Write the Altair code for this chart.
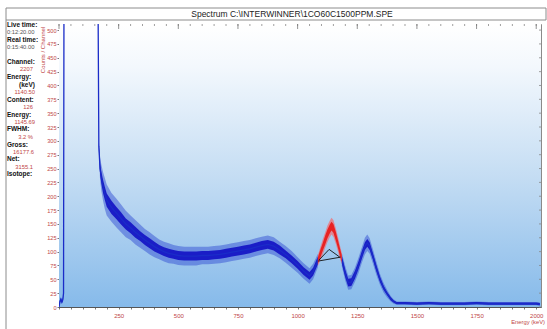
import altair as alt
import pandas as pd
import numpy as np

# ---------------- data ----------------
energy = [0, 4, 8, 12, 16, 19, 21, 163, 167, 172, 178, 185, 192, 200, 220, 240, 260, 280,
          300, 320, 340, 360, 380, 400, 420, 440, 460, 480, 500, 525, 550, 575, 600, 625,
          650, 675, 700, 725, 750, 775, 800, 825, 850, 875, 900, 925, 950, 975, 1000, 1025,
          1050, 1065, 1085, 1135, 1185, 1200, 1212, 1225, 1240, 1255, 1270, 1282, 1292, 1302,
          1315, 1330, 1345, 1360, 1375, 1390, 1402, 1415, 1450, 1500, 1550, 1600, 1650, 1700,
          1750, 1800, 1850, 1900, 1950, 2000, 2015]
counts = [0, 10, 14, 9, 13, 25, 600, 600, 290, 250, 232, 217, 205, 193, 180, 170, 160, 150,
          143, 135, 128, 121, 115, 109, 104, 100, 97, 95, 93, 92, 92, 92, 93, 93,
          94, 95, 97, 99, 101, 103, 105, 108, 111, 113, 110, 103, 95, 86, 76, 65,
          56, 64, 84, None, 86, 60, 44, 45, 58, 75, 95, 110, 116, 110,
          92, 70, 50, 35, 24, 15, 10, 7, 7, 6, 7, 6, 6, 6,
          7, 6, 6, 6, 6, 6, 5]
spread = [0, 2, 2, 2, 2, 0, 0, 0, 6, 9, 11, 12, 12, 12, 12, 11, 11, 10,
          10, 10, 9, 9, 9, 9, 8, 8, 8, 8, 8, 8, 8, 8, 8, 8,
          8, 8, 8, 8, 8, 8, 8, 8, 8, 8, 8, 8, 7, 7, 7, 7,
          7, 7, 7, None, 7, 7, 7, 7, 7, 7, 7, 7, 7, 7,
          6, 6, 5, 4, 3, 3, 2, 2, 2, 2, 2, 2, 2, 2,
          2, 2, 2, 2, 2, 2, 2]
spike = [0, 4, 4, 4, 4, 0, 0, 0, 10, 20, 24, 26, 28, 28, 26, 26, 25, 24,
         22, 22, 21, 20, 20, 19, 18, 18, 18, 17, 17, 17, 17, 17, 16, 16,
         16, 16, 16, 16, 16, 16, 16, 16, 16, 16, 16, 15, 15, 15, 14, 14,
         14, 14, 12, None, 12, 13, 13, 13, 13, 14, 14, 15, 15, 14,
         13, 12, 10, 9, 7, 5, 4, 3, 3, 3, 3, 3, 3, 3,
         3, 3, 3, 3, 3, 3, 3]

red_energy = [1085, 1095, 1105, 1115, 1125, 1135, 1142, 1150, 1160, 1170, 1178, 1185]
red_counts = [84, 96, 108, 120, 132, 141, 146, 142, 128, 112, 98, 88]
red_spread = [6, 7, 7, 8, 8, 8, 8, 8, 8, 7, 7, 6]
red_spike = [10, 12, 14, 14, 15, 15, 15, 15, 14, 13, 12, 10]

# region-of-interest marker lines (baseline and FWHM triangle)
roi_energy = [1087, 1180, 1090, 1132, 1177]
roi_counts = [83, 90, 85, 104, 90]
roi_group = ["base", "base", "tri", "tri", "tri"]

x_ticks = list(range(0, 2001, 50))
y_ticks = list(range(0, 501, 25))

assert len(energy) == len(counts) == len(spread) == len(spike)

# ---------------- tables ----------------
def band_table(e, c, s, k):
    rows = []
    for ei, ci, si, ki in zip(e, c, s, k):
        if ci is None:
            rows.append(dict(e=ei, c=np.nan, lo=np.nan, hi=np.nan, lo2=np.nan, hi2=np.nan))
        else:
            rows.append(dict(e=ei, c=ci, lo=ci - si, hi=ci + si, lo2=ci - ki, hi2=ci + ki))
    return pd.DataFrame(rows)

blue = band_table(energy, counts, spread, spike)
red = band_table(red_energy, red_counts, red_spread, red_spike)
roi = pd.DataFrame(dict(e=roi_energy, c=roi_counts, g=roi_group, o=list(range(len(roi_energy)))))
xt = pd.DataFrame(dict(e=x_ticks, major=[v % 250 == 0 for v in x_ticks]))
yt = pd.DataFrame(dict(c=y_ticks))
one = pd.DataFrame({"a": [0]})

W, H = 482, 283
PL, PT = 59, 24
RED = "#c04646"
FONT = "Liberation Sans"

xs = alt.Scale(domain=[0, 2020], nice=False, zero=False)
ys = alt.Scale(domain=[0, 511], nice=False, zero=False)

x_axis = alt.Axis(values=x_ticks, format="d",
                  labelExpr="datum.value % 250 == 0 && datum.value > 0 ? datum.label : ''",
                  labelFontSize=6, labelColor=RED, labelFont=FONT, tickSize=2,
                  tickColor="#777", domainColor="#555", grid=False, title=None,
                  labelPadding=3, labelOverlap=False, labelFlush=False)
y_axis = alt.Axis(values=y_ticks, format="d", labelFontSize=5.6, labelColor=RED,
                  labelFont=FONT, tickSize=2, tickColor="#777", domainColor="#333",
                  grid=False, title=None, labelPadding=1, labelOverlap=False,
                  labelFlush=False)

def X(f):
    return alt.X(f, scale=xs, axis=x_axis)

def Y(f):
    return alt.Y(f, scale=ys, axis=y_axis)

bg = alt.Chart(one).mark_rect(
    fill=alt.LinearGradient(gradient="linear", x1=0, x2=0, y1=0, y2=1,
                            stops=[alt.GradientStop(offset=0, color="#ffffff"),
                                   alt.GradientStop(offset=0.15, color="#f3f8fd"),
                                   alt.GradientStop(offset=0.55, color="#c3dcf3"),
                                   alt.GradientStop(offset=1, color="#86baea")])
).encode(x=alt.value(0), x2=alt.value(W), y=alt.value(0), y2=alt.value(H))

spikes = alt.Chart(blue).mark_area(color="#3350d4", opacity=0.5, clip=True).encode(
    x=X("e:Q"), y=Y("lo2:Q"), y2="hi2:Q")
band = alt.Chart(blue).mark_area(color="#1414c4", opacity=0.92, clip=True).encode(
    x=X("e:Q"), y=Y("lo:Q"), y2="hi:Q")
line = alt.Chart(blue).mark_line(color="#1a2cc8", strokeWidth=1.3, clip=True).encode(
    x=X("e:Q"), y=Y("c:Q"))

rspikes = alt.Chart(red).mark_area(color="#ff5a5a", opacity=0.6, clip=True).encode(
    x=X("e:Q"), y=Y("lo2:Q"), y2="hi2:Q")
rband = alt.Chart(red).mark_area(color="#e81c1c", opacity=0.95, clip=True).encode(
    x=X("e:Q"), y=Y("lo:Q"), y2="hi:Q")
roi_lines = alt.Chart(roi).mark_line(color="#111111", strokeWidth=0.9).encode(
    x=X("e:Q"), y=Y("c:Q"), detail="g:N", order="o:Q")

top_minor = alt.Chart(xt).mark_rule(color="#888", strokeWidth=0.8).encode(
    x=X("e:Q"), y=alt.value(0), y2=alt.value(2))
top_major = alt.Chart(xt[xt["major"]]).mark_rule(color="#777", strokeWidth=0.8).encode(
    x=X("e:Q"), y=alt.value(0), y2=alt.value(5))
right_ticks = alt.Chart(yt).mark_rule(color="#888", strokeWidth=0.8).encode(
    y=Y("c:Q"), x=alt.value(W - 2), x2=alt.value(W))

# frame: title bar and left border
title_box = alt.Chart(one).mark_rect(fill="#ffffff", stroke="#8c8c8c", strokeWidth=1).encode(
    x=alt.value(6 - PL), x2=alt.value(546 - PL), y=alt.value(8 - PT), y2=alt.value(20 - PT))
left_border = alt.Chart(one).mark_rule(color="#8c8c8c", strokeWidth=1).encode(
    x=alt.value(6 - PL), y=alt.value(20 - PT), y2=alt.value(329 - PT))

texts = []
def txt(s, ax, ay, size=6.5, color="#111", weight="normal", align="left", angle=None):
    kw = dict(text=s, fontSize=size, color=color, fontWeight=weight, align=align,
              baseline="middle", font=FONT)
    if angle is not None:
        kw["angle"] = angle
    texts.append(alt.Chart(one).mark_text(**kw).encode(x=alt.value(ax - PL), y=alt.value(ay - PT)))

txt("Spectrum C:\\INTERWINNER\\1CO60C1500PPM.SPE", 292, 14, size=8.5, color="#222", align="center")
txt("Counts / Channel", 43, 50, size=6, color=RED, align="center", angle=270)
txt("Energy (keV)", 545, 322, size=5.8, color=RED, align="right")

panel = [
    ("Live time:", 7, 25, "b"), ("0:12:20.00", 7, 32, "g"),
    ("Real time:", 7, 40, "b"), ("0:15:40.00", 7, 47, "g"),
    ("Channel:", 7, 62, "b"), ("2207", 33, 69, "r"),
    ("Energy:", 7, 77, "b"), ("(keV)", 35, 85, "br"), ("1140.50", 35, 92, "r"),
    ("Content:", 7, 100, "b"), ("126", 33, 107, "r"),
    ("Energy:", 7, 115, "b"), ("1145.69", 35, 122, "r"),
    ("FWHM:", 7, 129, "b"), ("3.2 %", 33, 137, "r"),
    ("Gross:", 7, 145, "b"), ("16177.6", 34, 152, "r"),
    ("Net:", 7, 159, "b"), ("3155.1", 33, 167, "r"),
    ("Isotope:", 7, 174, "b"),
]
for s, ax, ay, kind in panel:
    if kind == "b":
        txt(s, ax, ay, size=6.5, weight="bold", color="#111")
    elif kind == "br":
        txt(s, ax, ay, size=6.5, weight="bold", color="#111", align="right")
    elif kind == "g":
        txt(s, ax, ay, size=5.8, color="#555")
    else:
        txt(s, ax, ay, size=5.8, color=RED, align="right")

chart = alt.layer(
    bg, spikes, band, line, rspikes, rband, roi_lines,
    top_minor, top_major, right_ticks, title_box, left_border, *texts
).properties(
    width=W, height=H,
    padding={"left": PL, "top": PT, "right": 547 - PL - W, "bottom": 329 - PT - H},
    autosize=alt.AutoSizeParams(type="none"),
    background="#ffffff",
).configure_view(stroke="#8a8a8a", strokeWidth=1)

chart.save("out.html", embed_options={"renderer": "svg", "actions": False})
